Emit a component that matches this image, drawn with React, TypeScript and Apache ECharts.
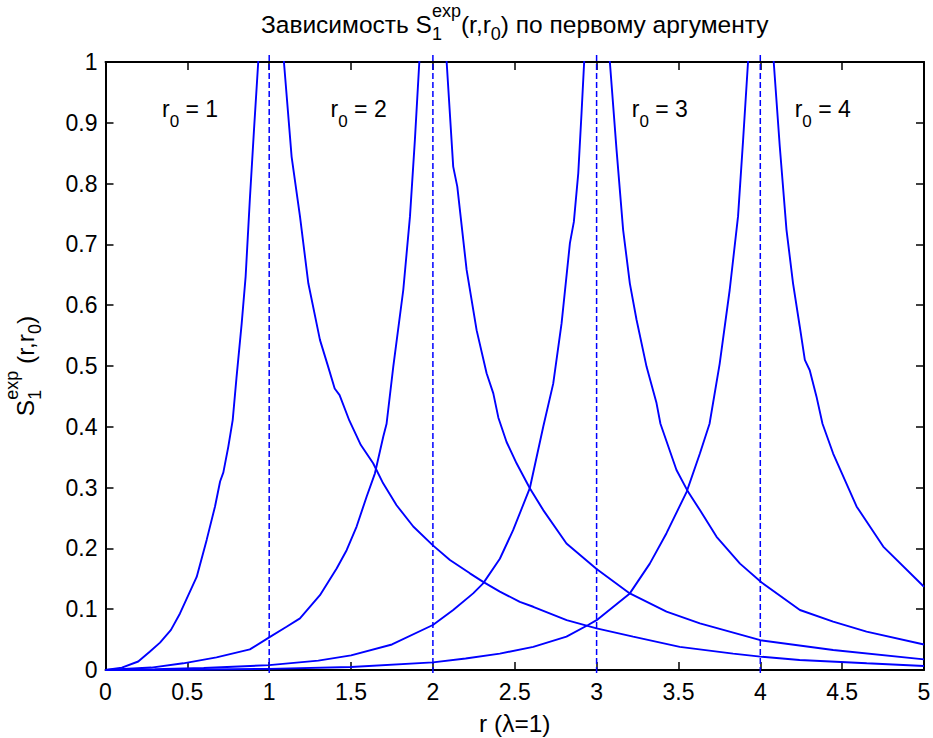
import React, { useEffect, useRef } from "react";
import * as echarts from "echarts";

// ---------- data ----------
const R0_VALUES = [1, 2, 3, 4];

const curveR0_1: [number, number][] = [
  [0, 0], [0.1, 0.004], [0.2, 0.014], [0.27, 0.03], [0.333, 0.045], [0.4, 0.066],
  [0.455, 0.093], [0.557, 0.153], [0.618, 0.214], [0.669, 0.269], [0.7, 0.31],
  [0.72, 0.325], [0.75, 0.367], [0.777, 0.411], [0.8, 0.48], [0.832, 0.57],
  [0.856, 0.647], [0.882, 0.775], [0.907, 0.888], [0.933, 1.0], [1.0, 1.6],
  [1.09, 1.0], [1.137, 0.844], [1.188, 0.746], [1.239, 0.636], [1.31, 0.543],
  [1.36, 0.499], [1.4, 0.463], [1.43, 0.452], [1.49, 0.41], [1.56, 0.37],
  [1.635, 0.34], [1.696, 0.307], [1.778, 0.271], [1.88, 0.236], [2.0, 0.205],
  [2.104, 0.181], [2.226, 0.159], [2.307, 0.145], [2.409, 0.129], [2.531, 0.112],
  [2.613, 0.104], [2.817, 0.082], [3.0, 0.0685], [3.223, 0.055], [3.508, 0.038],
  [3.834, 0.027], [4.0, 0.022], [4.24, 0.0164], [4.65, 0.011], [5.0, 0.0066],
];

const curveR0_2: [number, number][] = [
  [0, 0], [0.28, 0.004], [0.475, 0.011], [0.678, 0.0208], [0.882, 0.034],
  [1.0, 0.0537], [1.106, 0.0712], [1.188, 0.085], [1.31, 0.123], [1.412, 0.167],
  [1.473, 0.197], [1.534, 0.236], [1.595, 0.285], [1.646, 0.3235], [1.697, 0.384],
  [1.717, 0.405], [1.758, 0.499], [1.819, 0.625], [1.86, 0.746], [1.89, 0.872],
  [1.917, 1.0], [2.0, 1.6], [2.084, 1.0], [2.124, 0.828], [2.149, 0.795],
  [2.206, 0.658], [2.267, 0.559], [2.328, 0.488], [2.369, 0.455], [2.4, 0.415],
  [2.45, 0.375], [2.511, 0.34], [2.592, 0.299], [2.674, 0.263], [2.816, 0.208],
  [3.0, 0.166], [3.203, 0.126], [3.427, 0.096], [3.631, 0.0768], [4.0, 0.049],
  [4.445, 0.033], [5.0, 0.0175],
];

const curveR0_3: [number, number][] = [
  [0, 0], [0.3, 0.0012], [0.6, 0.0032], [1.0, 0.008], [1.3, 0.0155], [1.5, 0.024],
  [1.75, 0.042], [2.0, 0.074], [2.124, 0.0987], [2.246, 0.126], [2.307, 0.1425],
  [2.409, 0.183], [2.49, 0.23], [2.592, 0.299], [2.674, 0.4], [2.735, 0.471],
  [2.786, 0.57], [2.837, 0.702], [2.861, 0.737], [2.888, 0.817], [2.908, 0.916],
  [2.924, 1.0], [3.0, 1.6], [3.081, 1.0], [3.122, 0.855], [3.162, 0.724],
  [3.203, 0.636], [3.244, 0.576], [3.305, 0.499], [3.366, 0.439], [3.39, 0.405],
  [3.488, 0.329], [3.559, 0.293], [3.631, 0.263], [3.733, 0.219], [3.876, 0.175],
  [4.008, 0.144], [4.242, 0.0987], [4.445, 0.0795], [4.649, 0.063], [5.0, 0.042],
];

const curveR0_4: [number, number][] = [
  [0, 0], [0.5, 0.0005], [1.0, 0.0018], [1.5, 0.005], [2.0, 0.0126], [2.2, 0.019],
  [2.409, 0.027], [2.613, 0.038], [2.816, 0.055], [2.948, 0.074], [3.0, 0.082],
  [3.203, 0.126], [3.325, 0.175], [3.427, 0.225], [3.55, 0.293], [3.631, 0.356],
  [3.69, 0.405], [3.752, 0.504], [3.813, 0.625], [3.864, 0.746], [3.895, 0.872],
  [3.925, 1.0], [4.0, 1.6], [4.082, 1.0], [4.119, 0.861], [4.16, 0.724],
  [4.2, 0.636], [4.241, 0.565], [4.272, 0.51], [4.302, 0.493], [4.343, 0.45],
  [4.38, 0.405], [4.445, 0.356], [4.588, 0.269], [4.751, 0.203], [5.0, 0.137],
];

const CURVES = [curveR0_1, curveR0_2, curveR0_3, curveR0_4];

const LABEL_X = [0.345, 1.375, 3.215, 4.21];
const LABEL_Y = 0.922;

const DASH_BOTTOM = -0.005;
const DASH_TOP = 1.012;

const X_MIN = 0, X_MAX = 5, X_STEP = 0.5;
const Y_MIN = 0, Y_MAX = 1, Y_STEP = 0.1;

// ---------- style ----------
const FONT = '"Liberation Sans", Arial, Helvetica, sans-serif';
const BLUE = "#0000ff";
const MAIN = 23;
const SMALL = 17;
const T_MAIN = 24.5;
const T_SMALL = 18;
const W = 933, H = 738;
const GRID = { left: 105.5, right: 9, top: 62, bottom: 68 };

type Seg =
  | { k: "n"; t: string }
  | { k: "sp" }
  | { k: "sub"; t: string }
  | { k: "ss"; sub: string; sup: string };

function buildMath(segs: Seg[], main: number, small: number, subDy: number, supDy: number) {
  const ctx = document.createElement("canvas").getContext("2d")!;
  const m = (t: string, s: number) => {
    ctx.font = `${s}px ${FONT}`;
    return ctx.measureText(t).width;
  };
  const items: any[] = [];
  let x = 0;
  const txt = (t: string, xx: number, yy: number, s: number) => ({
    type: "text",
    x: xx,
    y: yy,
    style: { text: t, fontSize: s, fontFamily: FONT, fill: "#000", align: "left", verticalAlign: "middle" },
  });
  for (const s of segs) {
    if (s.k === "n") {
      items.push(txt(s.t, x, 0, main));
      x += m(s.t, main);
    } else if (s.k === "sp") {
      x += m(" ", main);
    } else if (s.k === "sub") {
      items.push(txt(s.t, x, subDy, small));
      x += m(s.t, small);
    } else {
      items.push(txt(s.sub, x, subDy, small));
      items.push(txt(s.sup, x, supDy, small));
      x += Math.max(m(s.sub, small), m(s.sup, small));
    }
  }
  return { items, width: x };
}

export default function App() {
  const ref = useRef<HTMLDivElement>(null);
  useEffect(() => {
    if (!ref.current) return;
    const chart = echarts.init(ref.current, undefined, { renderer: "svg" });

    const title = buildMath(
      [
        { k: "n", t: "Зависимость" }, { k: "sp" }, { k: "n", t: "S" },
        { k: "ss", sub: "1", sup: "exp" },
        { k: "n", t: "(r,r" }, { k: "sub", t: "0" },
        { k: "n", t: ") по первому аргументу" },
      ],
      T_MAIN, T_SMALL, 10, -13
    );
    const ylab = buildMath(
      [
        { k: "n", t: "S" }, { k: "ss", sub: "1", sup: "exp" }, { k: "sp" },
        { k: "n", t: "(r,r" }, { k: "sub", t: "0" }, { k: "n", t: ")" },
      ],
      T_MAIN, T_SMALL, 10, -13
    );
    const plotCx = GRID.left + (W - GRID.left - GRID.right) / 2;
    const plotCy = GRID.top + (H - GRID.top - GRID.bottom) / 2;

    const axisCommon = {
      type: "value" as const,
      axisLine: { show: true, onZero: false, lineStyle: { color: "#000", width: 2 } },
      axisTick: { show: true, inside: true, length: 8, lineStyle: { color: "#000", width: 1.5 } },
      splitLine: { show: false },
    };

    const series: any[] = [];
    CURVES.forEach((c) => {
      series.push({
        type: "line",
        data: c,
        symbol: "none",
        showSymbol: false,
        clip: true,
        lineStyle: { color: BLUE, width: 1.9 },
        z: 3,
        silent: true,
      });
    });
    R0_VALUES.forEach((r0) => {
      series.push({
        type: "line",
        data: [[r0, DASH_BOTTOM], [r0, DASH_TOP]],
        symbol: "none",
        showSymbol: false,
        clip: false,
        lineStyle: { color: BLUE, width: 1.5, type: [6, 3] },
        z: 2,
        silent: true,
      });
    });

    const baseGraphic: any[] = [
      {
        type: "group",
        x: plotCx - title.width / 2,
        y: 24,
        children: title.items,
      },
      {
        type: "group",
        x: 25,
        y: plotCy,
        rotation: Math.PI / 2,
        children: ylab.items.map((it: any) => ({ ...it, x: it.x - ylab.width / 2 })),
      },
    ];

    chart.setOption({
      animation: false,
      backgroundColor: "#fff",
      grid: { ...GRID, containLabel: false, outerBoundsMode: "none" },
      xAxis: [
        {
          ...axisCommon,
          position: "bottom",
          min: X_MIN, max: X_MAX, interval: X_STEP,
          axisLabel: { color: "#000", fontSize: MAIN, fontFamily: FONT, margin: 10, showMinLabel: true, showMaxLabel: true },
          name: "r (λ=1)",
          nameLocation: "middle",
          nameGap: 41,
          nameTextStyle: { color: "#000", fontSize: T_MAIN, fontFamily: FONT },
        },
        {
          ...axisCommon,
          position: "top",
          min: X_MIN, max: X_MAX, interval: X_STEP,
          axisLabel: { show: false },
        },
      ],
      yAxis: [
        {
          ...axisCommon,
          position: "left",
          min: Y_MIN, max: Y_MAX, interval: Y_STEP,
          axisLabel: { color: "#000", fontSize: MAIN, fontFamily: FONT, margin: 8, showMinLabel: true, showMaxLabel: true },
        },
        {
          ...axisCommon,
          position: "right",
          min: Y_MIN, max: Y_MAX, interval: Y_STEP,
          axisLabel: { show: false },
        },
      ],
      graphic: baseGraphic,
      series,
    });

    // r0 annotations placed through the chart's own coordinate conversion
    const annots = LABEL_X.map((lx, i) => {
      const p = chart.convertToPixel({ gridIndex: 0 }, [lx, LABEL_Y]) as number[];
      const a = buildMath(
        [{ k: "n", t: "r" }, { k: "sub", t: "0" }, { k: "sp" }, { k: "n", t: "=" }, { k: "sp" }, { k: "n", t: String(R0_VALUES[i]) }],
        MAIN, SMALL, 12, -12
      );
      return { type: "group", x: p[0], y: p[1], children: a.items };
    });
    chart.setOption({ graphic: [...baseGraphic, ...annots] });

    return () => chart.dispose();
  }, []);
  return <div ref={ref} style={{ position: "absolute", left: 0, top: 0, width: W, height: H }} />;
}
